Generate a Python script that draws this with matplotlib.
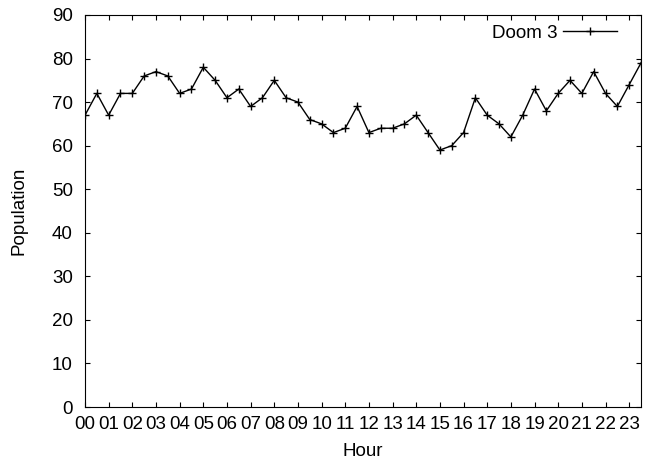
#!/usr/bin/env python3
"""Hourly player population for Doom 3 (half-hour samples)."""

import numpy as np
import matplotlib
matplotlib.use("Agg")
import matplotlib.pyplot as plt

plt.rcParams["font.family"] = ["Liberation Sans", "DejaVu Sans"]
plt.rcParams["font.size"] = 13.5

# ── Data ─────────────────────────────────────────────────────────────────────
hour_labels = [f"{h:02d}" for h in range(24)]
population = [
    67, 72, 67, 72, 72, 76, 77, 76, 72, 73, 78, 75,
    71, 73, 69, 71, 75, 71, 70, 66, 65, 63, 64, 69,
    63, 64, 64, 65, 67, 63, 59, 60, 63, 71, 67, 65,
    62, 67, 73, 68, 72, 75, 72, 77, 72, 69, 74, 79,
]
# one sample every half hour
sample_time = np.arange(len(population)) * 0.5

# ── Plot ─────────────────────────────────────────────────────────────────────
W, H = 649, 462
fig = plt.figure(figsize=(W / 100, H / 100), dpi=100)
ax = fig.add_axes([85 / W, 1 - 407 / H, 556 / W, 392 / H])

ax.plot(sample_time, population, color="black", linewidth=1.0,
        marker="+", markersize=6, markeredgewidth=1.0, label="Doom 3")

ax.set_xlim(0, 23.5)
ax.set_ylim(0, 90)
ax.set_xticks(range(24))
ax.set_xticklabels(hour_labels)
ax.set_yticks(range(0, 91, 10))
ax.tick_params(direction="in", length=3.5, width=0.8, top=True, right=True)
ax.tick_params(axis="y", pad=8.8)
ax.tick_params(axis="x", pad=6.5)

ax.set_xlabel("Hour")
ax.xaxis.set_label_coords(0.5, (407 - 452) / 392)
ax.xaxis.label.set_verticalalignment("center")
ax.set_ylabel("Population")
ax.yaxis.set_label_coords((19 - 85) / 556, 0.5)
ax.yaxis.label.set_verticalalignment("center")

# key sits inside the top right corner, text left of the sample line
ax.legend(loc="center right", bbox_to_anchor=(617 / W, 1 - 33 / H),
          bbox_transform=fig.transFigure, frameon=False, markerfirst=False,
          handlelength=2.9, handletextpad=0.25, borderpad=0, borderaxespad=0)

fig.savefig("out.png", dpi=100)
plt.close(fig)
